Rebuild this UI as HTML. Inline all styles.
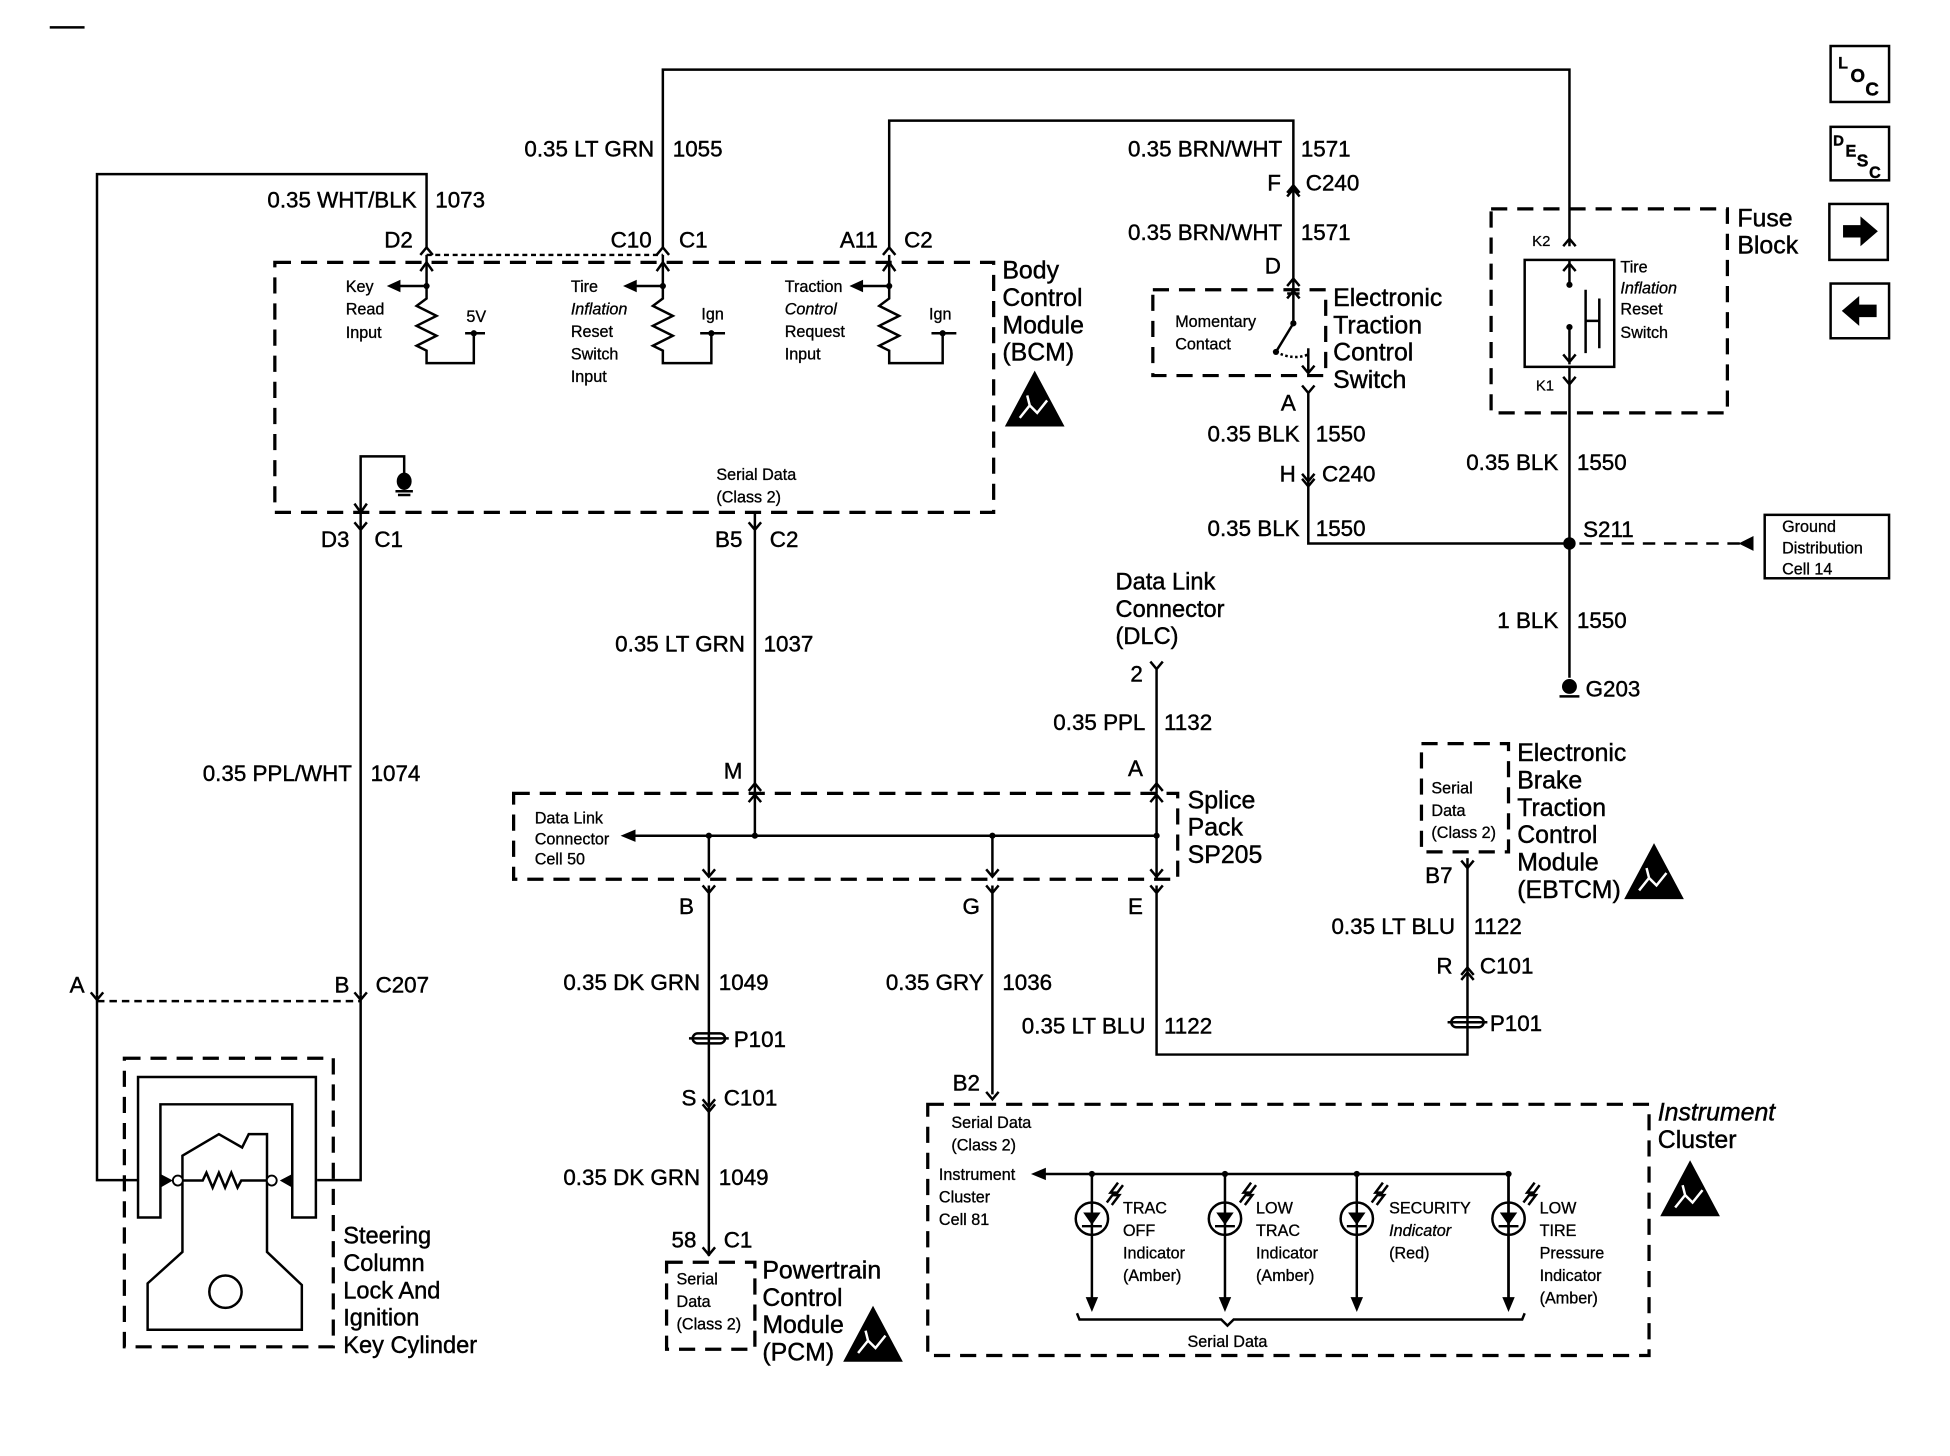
<!DOCTYPE html>
<html><head><meta charset="utf-8">
<style>
html,body{margin:0;padding:0;background:#fff;}
svg{display:block;}
text{font-family:"Liberation Sans",Arial,sans-serif;fill:#000;stroke:#000;stroke-width:0.35;}
.w{fill:none;stroke:#000;stroke-width:2;}
.d{fill:none;stroke:#000;stroke-width:2.6;stroke-dasharray:13 8;}
.t{font-size:18px;}
.r{text-anchor:end;}
.s{font-size:13px;stroke-width:0.25;}
.m{font-size:19px;}
.f{fill:#000;stroke:none;}
</style></head>
<body>
<svg width="1950" height="1456" viewBox="0 0 1568 1170.8" preserveAspectRatio="none" xmlns="http://www.w3.org/2000/svg">
<line x1="40" y1="22" x2="68" y2="22" class="w" stroke-width="1.5"/>

<g>
<rect x="1472" y="37" width="47" height="45" class="w" stroke-width="3"/>
<text x="1478" y="55" class="s" font-weight="bold">L</text><text x="1488" y="66" font-size="15" font-weight="bold">O</text><text x="1500" y="77" font-size="15" font-weight="bold">C</text>
<rect x="1472" y="102" width="47" height="43" class="w" stroke-width="2.5"/>
<text x="1474" y="117" font-size="12" font-weight="bold">D</text><text x="1484" y="126" font-size="13" font-weight="bold">E</text><text x="1493" y="134" font-size="14" font-weight="bold">S</text><text x="1503" y="143" font-size="13" font-weight="bold">C</text>
<rect x="1471" y="164" width="47" height="45" class="w" stroke-width="3"/>
<path d="M1482 181 H1496 V174 L1510 186 L1496 198 V191 H1482 Z" class="f"/>
<rect x="1472" y="228" width="47" height="44" class="w" stroke-width="3"/>
<path d="M1509 245 H1495 V238 L1481 250 L1495 262 V255 H1509 Z" class="f"/>
</g>

<path d="M533 200 V56 H1262 V198" class="w"/>
<path d="M343 200 V140 H78 V800" class="w"/>
<path d="M715 200 V97 H1040 V225" class="w"/>
<path d="M343 205 H533" class="w" stroke-dasharray="4 3" stroke-width="1.5"/>
<path d="M338 205 L343 199 L348 205 M528 205 L533 199 L538 205 M710 205 L715 199 L720 205" class="w"/>
<path d="M1035 158 L1040 152 L1045 158 M1035 155 L1040 149 L1045 155" class="w"/>
<path d="M1035 230 L1040 224 L1045 230" class="w"/>

<text x="526" y="126" class="t r">0.35 LT GRN</text><text x="541" y="126" class="t">1055</text>
<text x="335" y="167" class="t r">0.35 WHT/BLK</text><text x="350" y="167" class="t">1073</text>
<text x="332" y="199" class="t r">D2</text>
<text x="524" y="199" class="t r">C10</text><text x="546" y="199" class="t">C1</text>
<text x="706" y="199" class="t r">A11</text><text x="727" y="199" class="t">C2</text>
<text x="1031" y="126" class="t r">0.35 BRN/WHT</text><text x="1046" y="126" class="t">1571</text>
<text x="1030" y="153" class="t r">F</text><text x="1050" y="153" class="t">C240</text>
<text x="1031" y="193" class="t r">0.35 BRN/WHT</text><text x="1046" y="193" class="t">1571</text>
<text x="1030" y="220" class="t r">D</text>

<rect x="221" y="211" width="578" height="201" class="d"/>
<g class="w">
<path d="M343 205 V240 L335 246 L351 254 L335 262 L351 270 L335 278 L343 282 V292 H381 V268 M374 268 H390"/>
<path d="M338 218 L343 211 L348 218"/>
<path d="M343 230 H320"/>
<path d="M533 205 V240 L525 246 L541 254 L525 262 L541 270 L525 278 L533 282 V292 H572 V268 M563 268 H583"/>
<path d="M528 218 L533 211 L538 218"/>
<path d="M533 230 H510"/>
<path d="M715 205 V240 L707 246 L723 254 L707 262 L723 270 L707 278 L715 282 V292 H758 V268 M749 268 H769"/>
<path d="M710 218 L715 211 L720 218"/>
<path d="M715 230 H692"/>
<path d="M290 412 V367 H325 V385"/>
<path d="M285 405 L290 412 L295 405"/>
<path d="M318 395 H332 M320 398 H330"/>
</g>
<g class="f">
<path d="M311 230 L322 225 L322 235 Z"/><path d="M501 230 L512 225 L512 235 Z"/><path d="M683 230 L694 225 L694 235 Z"/>
<circle cx="343" cy="230" r="2.5"/><circle cx="533" cy="230" r="2.5"/><circle cx="715" cy="230" r="2.5"/>
<circle cx="381" cy="268" r="2.5"/><circle cx="572" cy="268" r="2.5"/><circle cx="758" cy="268" r="2.5"/>
<ellipse cx="325" cy="387" rx="6" ry="7"/>
</g>
<text x="278" y="235" class="s">Key</text><text x="278" y="253" class="s">Read</text><text x="278" y="272" class="s">Input</text>
<text x="375" y="259" class="s">5V</text>
<text x="459" y="235" class="s">Tire</text><text x="459" y="253" class="s" font-style="italic">Inflation</text><text x="459" y="271" class="s">Reset</text><text x="459" y="289" class="s">Switch</text><text x="459" y="307" class="s">Input</text>
<text x="564" y="257" class="s">Ign</text>
<text x="631" y="235" class="s">Traction</text><text x="631" y="253" class="s" font-style="italic">Control</text><text x="631" y="271" class="s">Request</text><text x="631" y="289" class="s">Input</text>
<text x="747" y="257" class="s">Ign</text>
<text x="576" y="386" class="s">Serial Data</text><text x="576" y="404" class="s">(Class 2)</text>
<text x="806" y="224" font-size="20">Body</text><text x="806" y="246" font-size="20">Control</text><text x="806" y="268" font-size="20">Module</text><text x="806" y="290" font-size="20">(BCM)</text>

<g id="esd">
<path d="M832 298 L808 343 L856 343 Z" class="f"/>
<path d="M820 336 L828 326 L834 332 L842 322 M828 326 L826 318" stroke="#fff" stroke-width="2" fill="none"/>
</g>
<use href="#esd" transform="translate(-130 752)"/>
<use href="#esd" transform="translate(498 380)"/>
<use href="#esd" transform="translate(527 635)"/>

<rect x="927" y="233" width="139" height="69" class="d"/>
<g class="w">
<path d="M1040 225 V260 L1026 283"/>
<path d="M1035 240 L1040 234 L1045 240 M1035 236 H1045"/>
<path d="M1026 283 Q1040 290 1052 285" stroke-dasharray="2 2"/>
<path d="M1052 280 V300 M1047 294 L1052 300 L1057 294"/>
<path d="M1047 310 L1052 316 L1057 310 M1052 316 V437 H1262"/>
<path d="M1047 381 L1052 387 L1057 381 M1047 385 L1052 391 L1057 385"/>
</g>
<circle cx="1040" cy="260" r="2.5" class="f"/><circle cx="1026" cy="283" r="2.5" class="f"/>
<text x="945" y="263" class="s">Momentary</text><text x="945" y="281" class="s">Contact</text>
<text x="1072" y="246" font-size="20">Electronic</text><text x="1072" y="268" font-size="20">Traction</text><text x="1072" y="290" font-size="20">Control</text><text x="1072" y="312" font-size="20">Switch</text>
<text x="1042" y="330" class="t r">A</text>
<text x="1045" y="355" class="t r">0.35 BLK</text><text x="1058" y="355" class="t">1550</text>
<text x="1042" y="387" class="t r">H</text><text x="1063" y="387" class="t">C240</text>
<text x="1045" y="431" class="t r">0.35 BLK</text><text x="1058" y="431" class="t">1550</text>

<rect x="1199" y="168" width="190" height="164" class="d"/>
<rect x="1226" y="209" width="72" height="86" class="w" stroke-width="2.5"/>
<g class="w">
<path d="M1257 198 L1262 192 L1267 198"/>
<path d="M1262 209 V229 M1257 218 L1262 212 L1267 218"/>
<path d="M1262 263 V293 M1257 285 L1262 291 L1267 285"/>
<path d="M1257 303 L1262 309 L1267 303 M1262 295 V545"/>
<path d="M1275 233 V284 M1275 258 H1286 M1286 240 V280"/>
</g>
<circle cx="1262" cy="229" r="2.5" class="f"/><circle cx="1262" cy="263" r="2.5" class="f"/>
<text x="1232" y="198" font-size="12" style="stroke-width:0.2">K2</text><text x="1235" y="314" font-size="12" style="stroke-width:0.2">K1</text>
<text x="1303" y="219" class="s">Tire</text><text x="1303" y="236" class="s" font-style="italic">Inflation</text><text x="1303" y="253" class="s">Reset</text><text x="1303" y="272" class="s">Switch</text>
<text x="1397" y="182" font-size="20">Fuse</text><text x="1397" y="204" font-size="20">Block</text>
<text x="1253" y="378" class="t r">0.35 BLK</text><text x="1268" y="378" class="t">1550</text>
<circle cx="1262" cy="437" r="5" class="f"/>
<text x="1273" y="432" class="t">S211</text>
<path d="M1270 437 H1400" class="w" stroke-dasharray="10 7"/>
<path d="M1398 437 L1410 431 L1410 443 Z" class="f"/>
<rect x="1419" y="414" width="100" height="51" class="w" stroke-width="2.5"/>
<text x="1433" y="428" class="s">Ground</text><text x="1433" y="445" class="s">Distribution</text><text x="1433" y="462" class="s">Cell 14</text>
<text x="1253" y="505" class="t r">1 BLK</text><text x="1268" y="505" class="t">1550</text>
<ellipse cx="1262" cy="552" rx="6" ry="6" class="f"/>
<path d="M1254 560 H1270" class="w"/>
<text x="1275" y="560" class="t">G203</text>

<g class="w">
<path d="M285 420 L290 426 L295 420 M290 412 V800"/>
<path d="M602 420 L607 426 L612 420 M607 412 V638"/>
<path d="M602 636 L607 630 L612 636"/>
<path d="M925 532 L930 538 L935 532 M930 538 V638"/>
<path d="M925 636 L930 630 L935 636"/>
</g>
<text x="281" y="440" class="t r">D3</text><text x="301" y="440" class="t">C1</text>
<text x="597" y="440" class="t r">B5</text><text x="619" y="440" class="t">C2</text>
<text x="599" y="524" class="t r">0.35 LT GRN</text><text x="614" y="524" class="t">1037</text>
<text x="897" y="474" class="m">Data Link</text><text x="897" y="496" class="m">Connector</text><text x="897" y="518" class="m">(DLC)</text>
<text x="919" y="548" class="t r">2</text>
<text x="921" y="587" class="t r">0.35 PPL</text><text x="936" y="587" class="t">1132</text>
<text x="283" y="628" class="t r">0.35 PPL/WHT</text><text x="298" y="628" class="t">1074</text>
<text x="597" y="626" class="t r">M</text><text x="919" y="624" class="t r">A</text>

<rect x="413" y="638" width="534" height="69" class="d"/>
<g class="w">
<path d="M510 672 H930"/>
<path d="M607 638 V672 M602 645 L607 639 L612 645"/>
<path d="M930 638 V707 M925 645 L930 639 L935 645"/>
<path d="M570 672 V705 M565 699 L570 705 L575 699"/>
<path d="M798 672 V705 M793 699 L798 705 L803 699"/>
<path d="M925 699 L930 705 L935 699"/>
<path d="M565 712 L570 718 L575 712 M570 712 V1010"/>
<path d="M793 712 L798 718 L803 712 M798 712 V880"/>
<path d="M925 712 L930 718 L935 712 M930 712 V848 H1180 V690"/>
</g>
<path d="M499 672 L511 667 L511 677 Z" class="f"/>
<circle cx="570" cy="672" r="2.5" class="f"/><circle cx="607" cy="672" r="2.5" class="f"/><circle cx="798" cy="672" r="2.5" class="f"/><circle cx="930" cy="672" r="2.5" class="f"/>
<text x="430" y="662" class="s">Data Link</text><text x="430" y="679" class="s">Connector</text><text x="430" y="695" class="s">Cell 50</text>
<text x="955" y="650" font-size="20">Splice</text><text x="955" y="672" font-size="20">Pack</text><text x="955" y="694" font-size="20">SP205</text>
<text x="558" y="735" class="t r">B</text><text x="788" y="735" class="t r">G</text><text x="919" y="735" class="t r">E</text>

<rect x="1143" y="598" width="70" height="87" class="d"/>
<path d="M1175 692 L1180 698 L1185 692" class="w"/>
<path d="M1175 784 L1180 778 L1185 784 M1175 788 L1180 782 L1185 788" class="w"/>
<text x="1151" y="638" class="s">Serial</text><text x="1151" y="656" class="s">Data</text><text x="1151" y="674" class="s">(Class 2)</text>
<text x="1220" y="612" font-size="20">Electronic</text><text x="1220" y="634" font-size="20">Brake</text><text x="1220" y="656" font-size="20">Traction</text><text x="1220" y="678" font-size="20">Control</text><text x="1220" y="700" font-size="20">Module</text><text x="1220" y="722" font-size="20">(EBTCM)</text>
<text x="1168" y="710" class="t r">B7</text>
<text x="1170" y="751" class="t r">0.35 LT BLU</text><text x="1185" y="751" class="t">1122</text>
<text x="1168" y="783" class="t r">R</text><text x="1190" y="783" class="t">C101</text>
<g id="splice"><rect x="1167" y="818" width="26" height="8" rx="4" class="w" stroke-width="2.5"/><path d="M1164 822 H1196" class="w"/></g>
<text x="1198" y="829" class="t">P101</text>
<use href="#splice" transform="translate(-610 13)"/>
<text x="590" y="842" class="t">P101</text>

<path d="M78 805 H290" class="w" stroke-dasharray="6 4"/>
<path d="M73 798 L78 804 L83 798 M285 798 L290 804 L295 798" class="w"/>
<text x="68" y="798" class="t r">A</text><text x="281" y="798" class="t r">B</text><text x="302" y="798" class="t">C207</text>

<text x="563" y="796" class="t r">0.35 DK GRN</text><text x="578" y="796" class="t">1049</text>
<text x="791" y="796" class="t r">0.35 GRY</text><text x="806" y="796" class="t">1036</text>
<text x="921" y="831" class="t r">0.35 LT BLU</text><text x="936" y="831" class="t">1122</text>
<path d="M565 884 L570 890 L575 884 M565 888 L570 894 L575 888" class="w"/>
<text x="560" y="889" class="t r">S</text><text x="582" y="889" class="t">C101</text>
<text x="788" y="877" class="t r">B2</text>
<path d="M793 878 L798 884 L803 878" class="w"/>
<text x="563" y="953" class="t r">0.35 DK GRN</text><text x="578" y="953" class="t">1049</text>
<path d="M565 1003 L570 1009 L575 1003" class="w"/>
<text x="560" y="1003" class="t r">58</text><text x="582" y="1003" class="t">C1</text>

<rect x="536" y="1015" width="71" height="70" class="d"/>
<text x="544" y="1033" class="s">Serial</text><text x="544" y="1051" class="s">Data</text><text x="544" y="1069" class="s">(Class 2)</text>
<text x="613" y="1028" font-size="20">Powertrain</text><text x="613" y="1050" font-size="20">Control</text><text x="613" y="1072" font-size="20">Module</text><text x="613" y="1094" font-size="20">(PCM)</text>

<rect x="746" y="888" width="580" height="202" class="d"/>
<text x="1333" y="901" font-size="20" font-style="italic">Instrument</text><text x="1333" y="923" font-size="20">Cluster</text>
<text x="765" y="907" class="s">Serial Data</text><text x="765" y="925" class="s">(Class 2)</text>
<text x="755" y="949" class="s">Instrument</text><text x="755" y="967" class="s">Cluster</text><text x="755" y="985" class="s">Cell 81</text>
<path d="M840 944 H1213 V1045" class="w"/>
<path d="M829 944 L841 939 L841 949 Z" class="f"/>
<g id="led">
<path d="M878 944 V1045" class="w"/>
<circle cx="878" cy="944" r="2.5" class="f"/>
<circle cx="878" cy="980" r="13" class="w"/>
<path d="M871 975 H885 L878 985 Z" class="f"/>
<path d="M870 986 H886" class="w"/>
<path d="M873 1043 L878 1055 L883 1043 Z" class="f"/>
<path d="M890 967 L896 959 L893 959 L899 951 M894 969 L900 961 L897 961 L903 953" class="w" stroke-width="1.2"/>
</g>
<use href="#led" transform="translate(107 0)"/>
<use href="#led" transform="translate(213 0)"/>
<use href="#led" transform="translate(335 0)"/>
<text x="903" y="976" class="s">TRAC</text><text x="903" y="994" class="s">OFF</text><text x="903" y="1012" class="s">Indicator</text><text x="903" y="1030" class="s">(Amber)</text>
<text x="1010" y="976" class="s">LOW</text><text x="1010" y="994" class="s">TRAC</text><text x="1010" y="1012" class="s">Indicator</text><text x="1010" y="1030" class="s">(Amber)</text>
<text x="1117" y="976" class="s">SECURITY</text><text x="1117" y="994" class="s" font-style="italic">Indicator</text><text x="1117" y="1012" class="s">(Red)</text>
<text x="1238" y="976" class="s">LOW</text><text x="1238" y="994" class="s">TIRE</text><text x="1238" y="1012" class="s">Pressure</text><text x="1238" y="1030" class="s">Indicator</text><text x="1238" y="1048" class="s">(Amber)</text>
<path d="M866 1056 L868 1061 H982 L987 1066 L992 1061 H1224 L1226 1056" class="w" stroke-width="1.5"/>
<text x="987" y="1083" class="s" text-anchor="middle">Serial Data</text>

<path d="M78 800 V949 H111 M290 800 V949 H255" class="w"/>
<rect x="100" y="851" width="168" height="232" class="d"/>
<path d="M111 979 V866 H254 V979 H235 V888 H129 V979 Z" class="w"/>
<path d="M146.7 929.3 L176 912 L194.7 922.7 L200 912 L214.7 912 L214.7 1006.7 L242.7 1033.3 L242.7 1069.3 L118.7 1069.3 L118.7 1032 L146.7 1006.7 Z" class="w"/>
<circle cx="181.3" cy="1038.7" r="13" class="w"/>
<path d="M146.7 949.3 H163 L166 943 L171 955 L176 943 L181 955 L186 943 L191 955 L194 949.3 H214.7" class="w"/>
<circle cx="143" cy="949.3" r="4" fill="#fff" stroke="#000" stroke-width="1.5"/>
<circle cx="218.5" cy="949.3" r="4" fill="#fff" stroke="#000" stroke-width="1.5"/>
<path d="M129 944 L139 949.3 L129 955 Z M235 944 L225 949.3 L235 955 Z" class="f"/>
<text x="276" y="1000" class="m">Steering</text><text x="276" y="1022" class="m">Column</text><text x="276" y="1044" class="m">Lock And</text><text x="276" y="1066" class="m">Ignition</text><text x="276" y="1088" class="m">Key Cylinder</text>
</svg>
</body></html>
